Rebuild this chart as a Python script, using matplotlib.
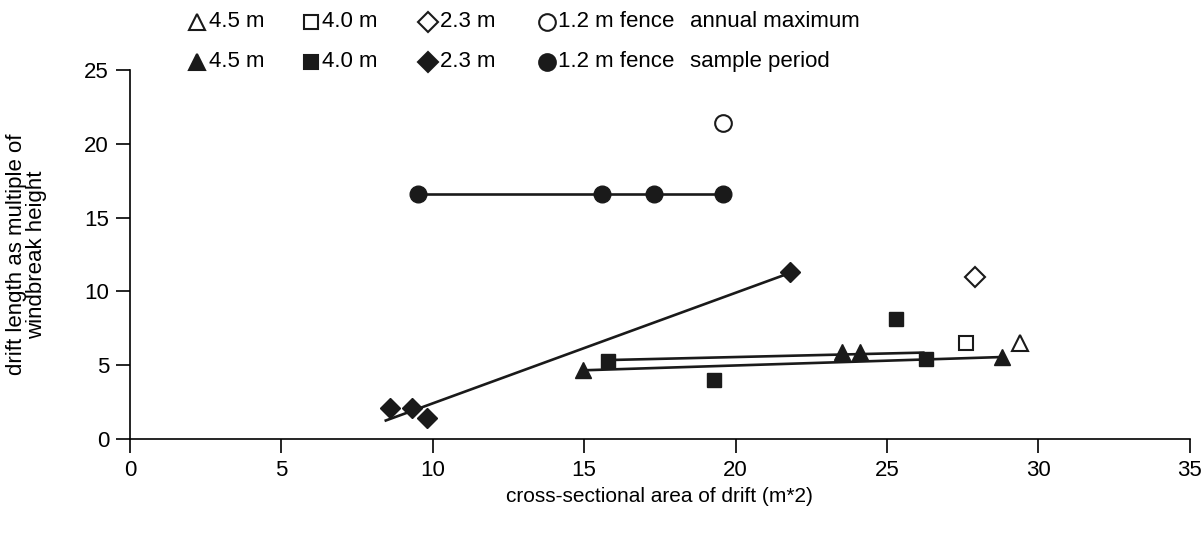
import matplotlib.pyplot as plt
from matplotlib.lines import Line2D

plt.rcParams['font.family'] = ['Liberation Sans', 'DejaVu Sans']

# windbreak types
labels = ['4.5 m', '4.0 m', '2.3 m', '1.2 m fence']
markers = ['^', 's', 'D', 'o']
msizes = [12, 10, 10, 12]

# sample period values
x45 = [14.95, 23.5, 24.1, 28.8]
y45 = [4.7, 5.9, 5.9, 5.55]
x40 = [15.8, 19.3, 25.3, 26.3]
y40 = [5.3, 4.0, 8.1, 5.4]
x23 = [8.6, 9.3, 9.8, 21.8]
y23 = [2.1, 2.1, 1.4, 11.3]
x12 = [9.5, 15.6, 17.3, 19.6]
y12 = [16.6, 16.6, 16.6, 16.6]

# annual maximum values (same order as labels)
max_x = [29.4, 27.6, 27.9, 19.6]
max_y = [6.5, 6.5, 11.0, 21.4]

# trend lines, start/end
trend45_x = [14.95, 28.8]
trend45_y = [4.65, 5.55]
trend40_x = [15.9, 26.2]
trend40_y = [5.35, 5.85]
trend23_x = [8.45, 21.8]
trend23_y = [1.25, 11.25]
trend12_x = [9.5, 19.6]
trend12_y = [16.6, 16.6]

ink = '#1a1a1a'

fig = plt.figure(figsize=(12.03, 5.34), dpi=100)
ax = fig.add_axes([0.108, 0.178, 0.881, 0.691])

sample_x = [x45, x40, x23, x12]
sample_y = [y45, y40, y23, y12]
trends = [(trend45_x, trend45_y), (trend40_x, trend40_y),
          (trend23_x, trend23_y), (trend12_x, trend12_y)]

for (tx, ty) in trends:
    ax.plot(tx, ty, color=ink, lw=1.9, zorder=2)

for i in range(4):
    ax.plot(sample_x[i], sample_y[i], linestyle='none', marker=markers[i],
            ms=msizes[i], color=ink, mec=ink, zorder=3)
    ax.plot(max_x[i], max_y[i], linestyle='none', marker=markers[i],
            ms=msizes[i], mfc='white', mec=ink, mew=1.5, zorder=3)

ax.set_xlim(0, 35)
ax.set_ylim(0, 25)
ax.set_xticks(range(0, 36, 5))
ax.set_yticks(range(0, 26, 5))
ax.spines['top'].set_visible(False)
ax.spines['right'].set_visible(False)
ax.spines['left'].set_linewidth(1.2)
ax.spines['bottom'].set_linewidth(1.2)
ax.tick_params(direction='out', length=10, width=1.2, labelsize=16, pad=5)

ax.set_xlabel('cross-sectional area of drift (m*2)', fontsize=15)
ax.set_ylabel('drift length as multiple of\nwindbreak height', fontsize=16,
              linespacing=0.95)
ax.xaxis.set_label_coords(0.5, -0.13)
ax.yaxis.set_label_coords(-0.078, 0.5)

# legend keys drawn by hand: open = annual maximum, filled = sample period
key_x = [197, 311, 428, 547]    # marker centres, px from left
text_x = [209, 322, 440, 558]
rows = [(0.959, 'white', 'annual maximum'), (0.884, ink, 'sample period')]
W = 1203.0
for ry, face, title in rows:
    for i in range(4):
        fig.add_artist(Line2D([key_x[i] / W], [ry], transform=fig.transFigure,
                              linestyle='none', marker=markers[i],
                              ms=msizes[i], mfc=face, mec=ink, mew=1.5))
        fig.text(text_x[i] / W, ry, labels[i], fontsize=16, va='center')
    fig.text(690 / W, ry, title, fontsize=16, va='center')

fig.savefig('out.png', dpi=100)
